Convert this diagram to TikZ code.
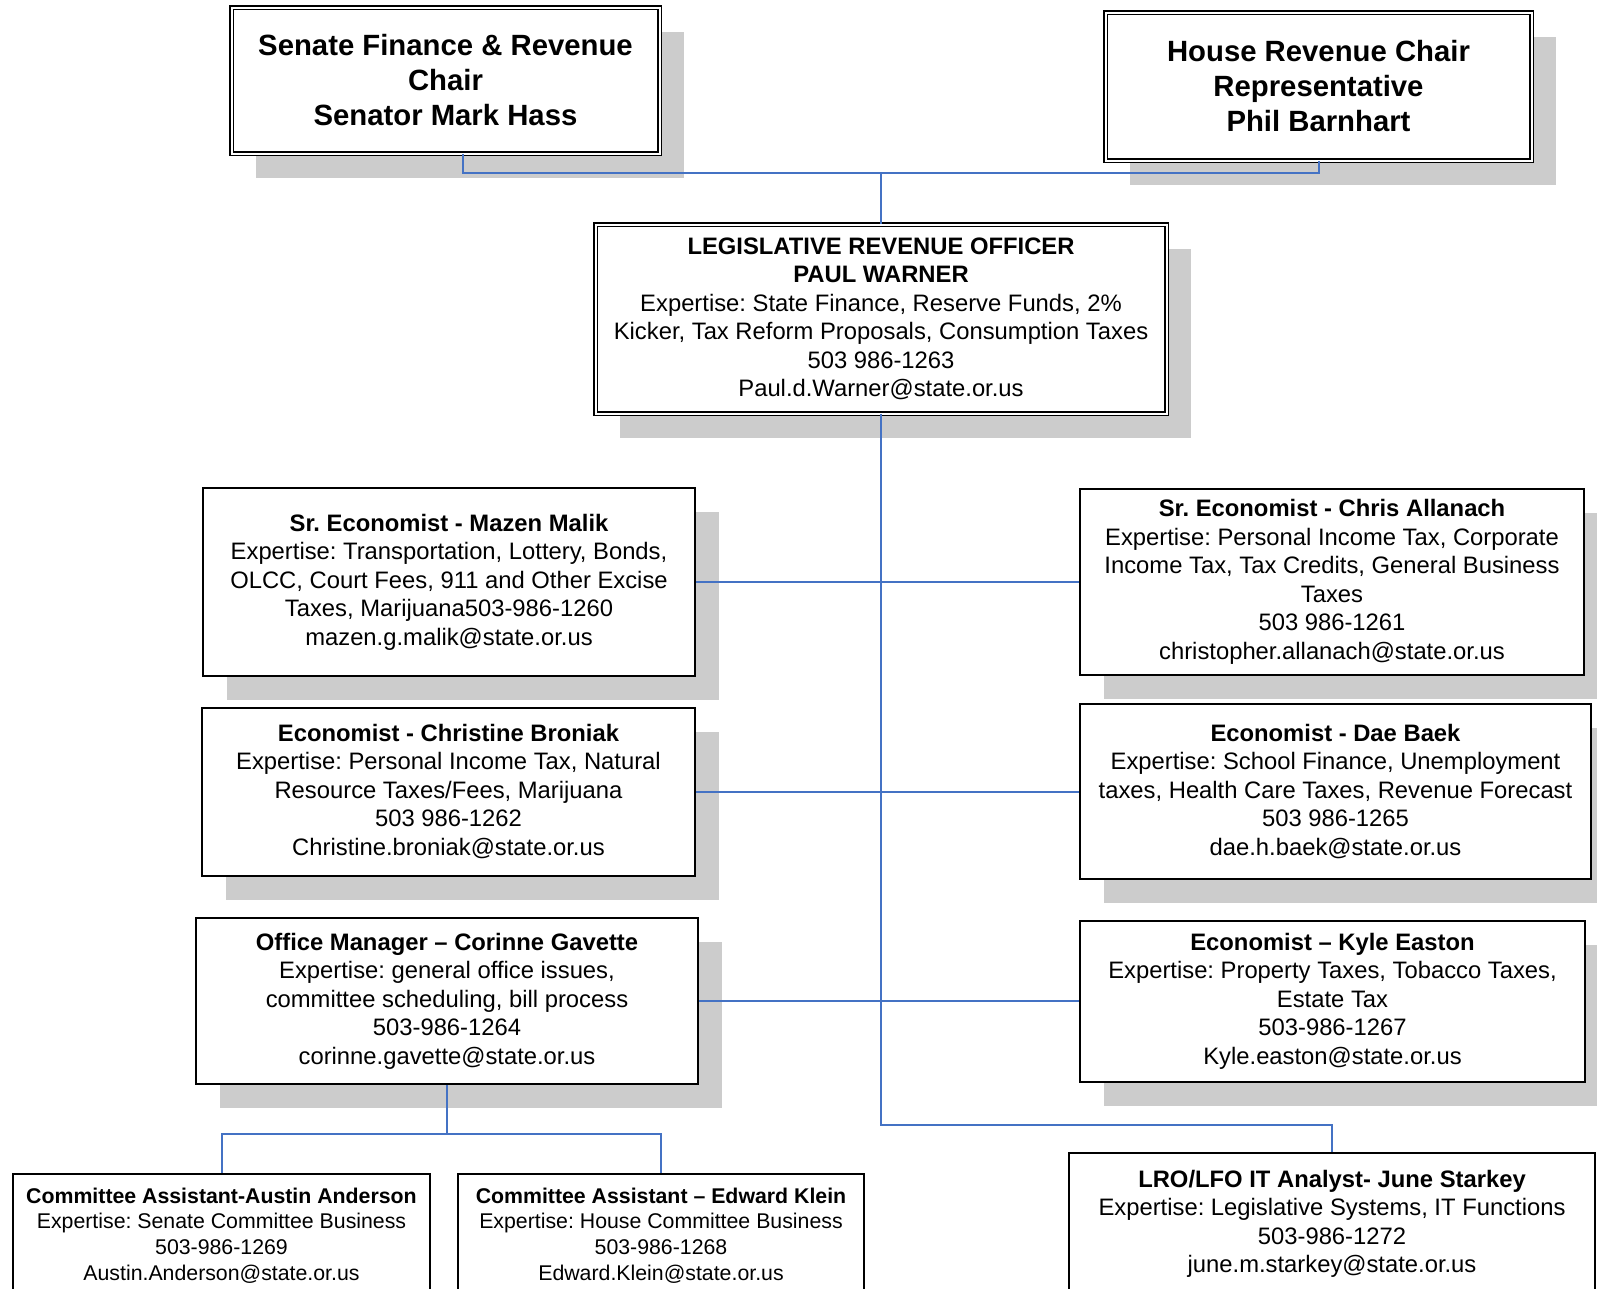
\documentclass[tikz,border=0pt]{standalone}
\usepackage{fontspec}
\setmainfont{Liberation Sans}
\usepackage{tikz}
\usetikzlibrary{positioning, shadows}
\definecolor{linkblue}{RGB}{68,114,196}
\definecolor{shadowgray}{RGB}{204,204,204}
\frenchspacing

\begin{document}
\begin{tikzpicture}[x=1pt, y=1pt, node distance=209.5pt,
    staff/.style={rectangle, draw, line width=2pt, fill=white, align=center, inner sep=2pt,
        font=\fontsize{23.8}{28.5}\selectfont},
    boxshadow/.style={drop shadow={shadow xshift=24pt, shadow yshift=-24pt, fill=shadowgray, opacity=1}},
    chair/.style={staff, boxshadow, double, line width=1.6pt, double distance=2pt},
    bigtext/.style={font=\fontsize{29.3}{35}\selectfont\bfseries},
    smalltext/.style={font=\fontsize{21.3}{25.8}\selectfont},
    link/.style={draw=linkblue, line width=2pt}]
    \useasboundingbox (0,0) rectangle (1597,-1288);
    \clip (0,0) rectangle (1597,-1288);

    % Nodes
    \node (senate) [chair, bigtext, minimum width=428pt, minimum height=146pt] at (445.5,-80.5)
        {Senate Finance \& Revenue\\Chair\\Senator Mark Hass};
    \node (house) [chair, bigtext, minimum width=426pt, minimum height=148pt] at (1318.5,-86.5)
        {House Revenue Chair\\Representative\\Phil Barnhart};
    \node (lro) [chair, minimum width=571pt, minimum height=189pt] at (881,-319)
        {\textbf{LEGISLATIVE REVENUE OFFICER}\\\textbf{PAUL WARNER}\\Expertise: State Finance, Reserve Funds, 2\%\\Kicker, Tax Reform Proposals, Consumption Taxes\\503 986-1263\\Paul.d.Warner@state.or.us};

    \node (mazen) [staff, boxshadow, minimum width=492pt, minimum height=188pt] at (449,-582)
        {\textbf{Sr. Economist - Mazen Malik}\\Expertise: Transportation, Lottery, Bonds,\\OLCC, Court Fees, 911 and Other Excise\\Taxes, Marijuana503-986-1260\\mazen.g.malik@state.or.us};
    \node (christine) [staff, boxshadow, below of=mazen, xshift=-0.5pt, minimum width=493pt, minimum height=168pt]
        {\textbf{Economist - Christine Broniak}\\Expertise: Personal Income Tax, Natural\\Resource Taxes/Fees, Marijuana\\503 986-1262\\Christine.broniak@state.or.us};
    \node (corinne) [staff, boxshadow, below of=christine, xshift=-1.5pt, minimum width=502pt, minimum height=166pt]
        {\textbf{Office Manager -- Corinne Gavette}\\Expertise: general office issues,\\committee scheduling, bill process\\503-986-1264\\corinne.gavette@state.or.us};

    \node (chris) [staff, boxshadow, minimum width=504pt, minimum height=186pt] at (1332,-582)
        {\textbf{Sr. Economist - Chris Allanach}\\Expertise: Personal Income Tax, Corporate\\Income Tax, Tax Credits, General Business\\Taxes\\503 986-1261\\christopher.allanach@state.or.us};
    \node (dae) [staff, boxshadow, below of=chris, xshift=3.5pt, minimum width=511pt, minimum height=175pt]
        {\textbf{Economist - Dae Baek}\\Expertise: School Finance, Unemployment\\taxes, Health Care Taxes, Revenue Forecast\\503 986-1265\\dae.h.baek@state.or.us};
    \node (kyle) [staff, boxshadow, below of=dae, xshift=-3pt, minimum width=505pt, minimum height=161pt]
        {\textbf{Economist -- Kyle Easton}\\Expertise: Property Taxes, Tobacco Taxes,\\Estate Tax\\503-986-1267\\Kyle.easton@state.or.us};

    \node (austin) [staff, smalltext, minimum width=417pt, minimum height=123pt] at (221.5,-1235.5)
        {\textbf{Committee Assistant-Austin Anderson}\\Expertise: Senate Committee Business\\503-986-1269\\Austin.Anderson@state.or.us};
    \node (edward) [staff, smalltext, minimum width=406pt, minimum height=123pt] at (661,-1235.5)
        {\textbf{Committee Assistant -- Edward Klein}\\Expertise: House Committee Business\\503-986-1268\\Edward.Klein@state.or.us};
    \node (june) [staff, minimum width=526pt, minimum height=142pt] at (1332,-1224)
        {\textbf{LRO/LFO IT Analyst- June Starkey}\\Expertise: Legislative Systems, IT Functions\\503-986-1272\\june.m.starkey@state.or.us};

    % Lines
    \coordinate (top) at (881,-173);
    \coordinate (trunk) at (881,-1125);
    \draw[link] ([xshift=17pt]senate.south) |- (top) -| (house.south);
    \draw[link] (top) -- (lro.north);
    \draw[link] (lro.south) -- (trunk) -| (june.north);
    \draw[link] (mazen.east) -- (chris.west);
    \draw[link] (christine.east) -- (dae.west);
    \draw[link] (corinne.east) -- (kyle.west);
    \draw[link] (corinne.south) -- ++(0,-49) coordinate (split);
    \draw[link] (split) -| (austin.north);
    \draw[link] (split) -| (edward.north);
\end{tikzpicture}
\end{document}
